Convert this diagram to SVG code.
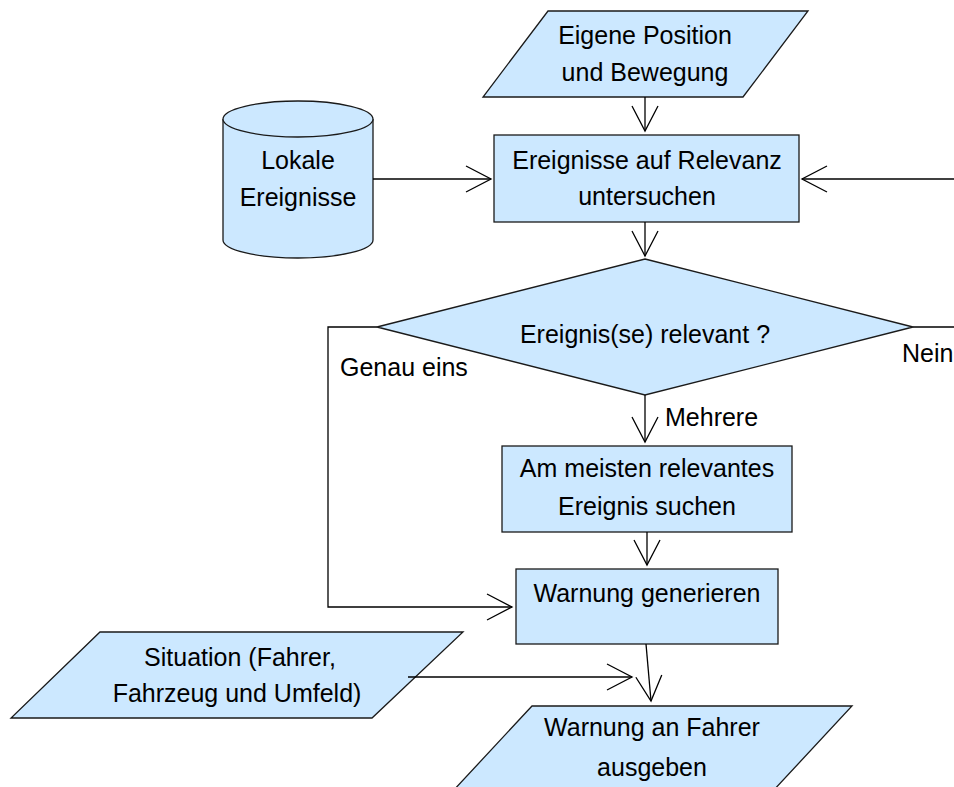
<svg xmlns="http://www.w3.org/2000/svg" width="954" height="787" viewBox="0 0 954 787">
<style>
.shape{fill:#cce8ff;stroke:#1a1a1a;stroke-width:1.3}
.t{font-family:"Liberation Sans",Arial,sans-serif;font-size:25px;fill:#000;text-anchor:middle}
.lbl{font-family:"Liberation Sans",Arial,sans-serif;font-size:25px;fill:#000}
.c{fill:none;stroke:#000;stroke-width:1.3}
</style>
<defs>
<marker id="v" viewBox="-27 -15 29 30" refX="0" refY="0" markerWidth="29" markerHeight="30" markerUnits="userSpaceOnUse" orient="auto" overflow="visible">
<path d="M-25,-13 L0,0 L-25,13" fill="none" stroke="#000" stroke-width="1.3"/>
</marker>
</defs>
<rect width="954" height="787" fill="#fff"/>
<g id="eigene-position">
<polygon class="shape" points="548,11 808,11 743,97 483,97"/>
<text class="t" x="645" y="44">Eigene Position</text>
<text class="t" x="645" y="81">und Bewegung</text>
</g>
<g id="lokale-ereignisse">
<path class="shape" d="M223,119 L223,240 A75,18 0 0 0 373,240 L373,119 A75,18 0 0 0 223,119 Z"/>
<path class="shape" d="M223,119 A75,18 0 0 0 373,119" fill="none"/>
<text class="t" x="298" y="169">Lokale</text>
<text class="t" x="298" y="206">Ereignisse</text>
</g>
<g id="relevanz-untersuchen">
<rect class="shape" x="494" y="135" width="305" height="87"/>
<text class="t" x="647" y="169">Ereignisse auf Relevanz</text>
<text class="t" x="647" y="205">untersuchen</text>
</g>
<g id="relevant-decision">
<polygon class="shape" points="645,259 913,327 645,395 377,327"/>
<text class="t" x="645" y="343">Ereignis(se) relevant ?</text>
</g>
<g id="meisten-relevantes">
<rect class="shape" x="502" y="446" width="290" height="86"/>
<text class="t" x="647" y="477">Am meisten relevantes</text>
<text class="t" x="647" y="515">Ereignis suchen</text>
</g>
<g id="warnung-generieren">
<rect class="shape" x="516" y="569" width="262" height="75"/>
<text class="t" x="647" y="602">Warnung generieren</text>
</g>
<g id="situation">
<polygon class="shape" points="100,632 463,632 372,718 11,718"/>
<text class="t" x="240" y="666">Situation (Fahrer,</text>
<text class="t" x="237" y="702">Fahrzeug und Umfeld)</text>
</g>
<g id="warnung-ausgeben">
<polygon class="shape" points="532,706 852,706 772,792 452,792"/>
<text class="t" x="652" y="736">Warnung an Fahrer</text>
<text class="t" x="652" y="776">ausgeben</text>
</g>
<g id="connectors">
<line class="c" x1="645" y1="97" x2="645" y2="131" marker-end="url(#v)"/>
<line class="c" x1="373" y1="179" x2="491" y2="179" marker-end="url(#v)"/>
<line class="c" x1="954" y1="179" x2="802" y2="179" marker-end="url(#v)"/>
<line class="c" x1="645" y1="222" x2="645" y2="256" marker-end="url(#v)"/>
<line class="c" x1="645" y1="395" x2="645" y2="442" marker-end="url(#v)"/>
<polyline class="c" points="377,327 328,327 328,607 512,607" marker-end="url(#v)"/>
<line class="c" x1="913" y1="327" x2="954" y2="327"/>
<line class="c" x1="647" y1="532" x2="647" y2="565" marker-end="url(#v)"/>
<line class="c" x1="408" y1="677" x2="632" y2="677" marker-end="url(#v)"/>
<line class="c" x1="646" y1="644" x2="651" y2="701" marker-end="url(#v)"/>
<text class="lbl" x="340" y="376">Genau eins</text>
<text class="lbl" x="902" y="362">Nein</text>
<text class="lbl" x="665" y="426">Mehrere</text>
</g>
</svg>
